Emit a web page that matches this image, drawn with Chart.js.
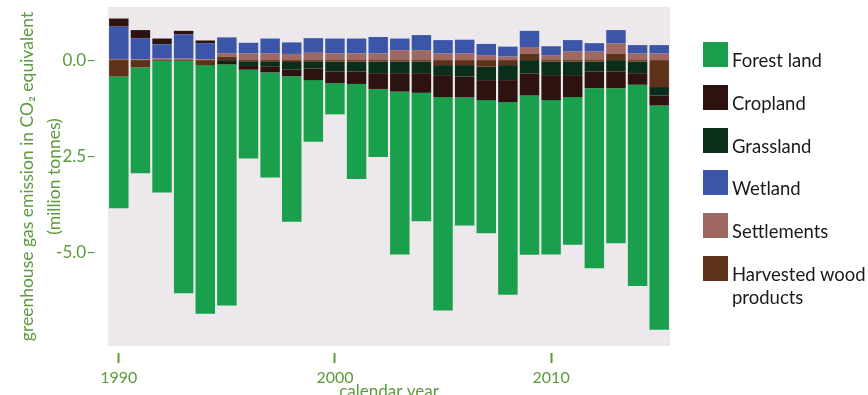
<!DOCTYPE html>
<html>
<head>
<meta charset="utf-8">
<script src="https://cdn.jsdelivr.net/npm/chart.js@4.4.1/dist/chart.umd.min.js"></script>
<style>
  html, body { margin: 0; padding: 0; background: #fff; overflow: hidden; width: 868px; height: 395px; }
  #wrap { position: relative; width: 868px; height: 402px; }
  #legend { position: absolute; left: 703px; top: 42px; font-family: Lato, "Open Sans", sans-serif; font-size: 18.5px; color: #1a1a1a; white-space: nowrap; }
  .lg-item { position: absolute; left: 0; }
  .lg-box { position: absolute; left: 0; top: 0; width: 25px; height: 25px; }
  .lg-text { position: absolute; left: 29px; top: 7px; line-height: 23px; }
</style>
</head>
<body>
<div id="wrap">
  <canvas id="chart" width="868" height="402"></canvas>
  <div id="legend"></div>
</div>
<script>
// ── Dados ─────────────────────────────────────────────────────
const YEARS = [1990, 1991, 1992, 1993, 1994, 1995, 1996, 1997, 1998, 1999,
  2000, 2001, 2002, 2003, 2004, 2005, 2006, 2007, 2008, 2009,
  2010, 2011, 2012, 2013, 2014, 2015];

const FOREST = [-3.42, -2.75, -3.42, -6.04, -6.46, -6.27, -2.31, -2.73, -3.78, -1.60,
  -0.81, -2.47, -1.77, -4.23, -3.34, -5.55, -3.33, -3.46, -5.01, -4.14,
  -4.01, -3.84, -4.68, -4.03, -5.23, -5.83];
const CROPLAND = [0.21, 0.21, 0.15, 0.09, 0.07, -0.06, -0.12, -0.16, -0.17, -0.30,
  -0.30, -0.32, -0.41, -0.48, -0.51, -0.57, -0.54, -0.52, -0.57, -0.57,
  -0.65, -0.57, -0.43, -0.43, -0.30, -0.26];
const GRASSLAND = [0, 0, 0, 0, 0, -0.05, -0.10, -0.13, -0.20, -0.19,
  -0.26, -0.26, -0.30, -0.30, -0.30, -0.26, -0.30, -0.35, -0.39, -0.35,
  -0.35, -0.35, -0.26, -0.30, -0.30, -0.22];
const WETLAND = [0.84, 0.55, 0.37, 0.63, 0.42, 0.41, 0.28, 0.39, 0.30, 0.38,
  0.39, 0.39, 0.43, 0.30, 0.39, 0.35, 0.36, 0.29, 0.26, 0.42,
  0.23, 0.30, 0.22, 0.35, 0.22, 0.22];
const SETTLEMENTS = [0.03, 0.02, 0.04, 0.04, 0.02, 0.09, 0.17, 0.17, 0.16, 0.19,
  0.17, 0.17, 0.17, 0.26, 0.26, 0.17, 0.17, 0.13, 0.09, 0.17,
  0.13, 0.22, 0.22, 0.26, 0.17, 0.17];
const HWP = [-0.43, -0.19, -0.02, -0.02, -0.13, 0.09, -0.03, -0.03, -0.05, -0.03,
  -0.04, -0.04, -0.04, -0.04, -0.04, -0.13, -0.13, -0.17, -0.13, 0.17,
  -0.04, -0.04, -0.04, 0.17, -0.04, -0.70];

const Y_TICKS = [0, -2.5, -5.0];
const Y_MIN = -7.43;
const Y_MAX = 1.38;

// ── Cores ─────────────────────────────────────────────────────
const AXIS_GREEN = "#5b9b3d";
const PLOT_BG = "#ece8eb";

// ordem do empilhamento (a partir do zero)
const SERIES = [
  { label: "Harvested wood products", data: HWP, color: "#5e3218" },
  { label: "Settlements", data: SETTLEMENTS, color: "#a06862" },
  { label: "Wetland", data: WETLAND, color: "#3b55a8" },
  { label: "Grassland", data: GRASSLAND, color: "#0b2e1a" },
  { label: "Cropland", data: CROPLAND, color: "#2e1210" },
  { label: "Forest land", data: FOREST, color: "#1aa04c" },
];

// ordem da legenda
const LEGEND_ORDER = ["Forest land", "Cropland", "Grassland", "Wetland", "Settlements", "Harvested wood products"];
const LEGEND_TEXT = {
  "Harvested wood products": "Harvested wood<br>products",
};

// ── Fundo da área do gráfico ──────────────────────────────────
const plotBackground = {
  id: "plotBackground",
  beforeDraw(chart) {
    const { ctx, chartArea: a } = chart;
    ctx.save();
    ctx.fillStyle = PLOT_BG;
    ctx.fillRect(a.left, a.top, a.right - a.left, a.bottom - a.top);
    ctx.restore();
  },
};

const FONT = "Lato, 'Open Sans', sans-serif";

new Chart(document.getElementById("chart"), {
  type: "bar",
  data: {
    labels: YEARS,
    datasets: SERIES.map((s) => ({
      label: s.label,
      data: s.data,
      backgroundColor: s.color,
      borderWidth: 0,
      barPercentage: 1.0,
      categoryPercentage: 0.9,
    })),
  },
  options: {
    responsive: false,
    animation: false,
    layout: { padding: { left: 0, right: 198, top: 7, bottom: 0 } },
    plugins: {
      legend: { display: false },
      tooltip: { enabled: false },
    },
    scales: {
      x: {
        stacked: true,
        afterFit: (scale) => { scale.height = 56; },
        border: { display: false },
        grid: {
          offset: false,
          drawOnChartArea: false,
          drawTicks: true,
          tickLength: 17,
          tickWidth: 2,
          tickBorderDash: [0, 7, 10, 100],
          color: (c) => (YEARS[c.index] % 10 === 0 ? AXIS_GREEN : "rgba(0,0,0,0)"),
          tickColor: (c) => (YEARS[c.index] % 10 === 0 ? AXIS_GREEN : "rgba(0,0,0,0)"),
        },
        ticks: {
          autoSkip: false,
          maxRotation: 0,
          padding: 5,
          color: AXIS_GREEN,
          font: { family: FONT, size: 16 },
          callback: (v, i) => (YEARS[i] % 10 === 0 ? String(YEARS[i]) : ""),
        },
        title: {
          display: true,
          text: "calendar year",
          color: AXIS_GREEN,
          font: { family: FONT, size: 17 },
          padding: { top: 0, bottom: 0 },
        },
      },
      y: {
        stacked: true,
        min: Y_MIN,
        max: Y_MAX,
        afterFit: (scale) => {
          scale.width = 108;
          scale.paddingTop = 0;
          scale.paddingBottom = 0;
        },
        afterBuildTicks: (scale) => { scale.ticks = Y_TICKS.map((v) => ({ value: v })); },
        border: { display: false },
        grid: { display: false },
        ticks: {
          padding: 4,
          color: AXIS_GREEN,
          font: { family: FONT, size: 17 },
          callback: (v) => Number(v).toFixed(1) + "–",
        },
        title: {
          display: true,
          text: ["greenhouse gas emission in CO₂ equivalent", "(million tonnes)"],
          color: AXIS_GREEN,
          font: { family: FONT, size: 17.5, lineHeight: 27 / 17.5 },
          padding: { top: 14, bottom: 0 },
        },
      },
    },
  },
  plugins: [plotBackground],
});

// ── Legenda ───────────────────────────────────────────────────
const legendEl = document.getElementById("legend");
LEGEND_ORDER.forEach((nome, i) => {
  const s = SERIES.find((x) => x.label === nome);
  const item = document.createElement("div");
  item.className = "lg-item";
  item.style.top = Math.round(i * 42.8) + "px";
  const box = document.createElement("div");
  box.className = "lg-box";
  box.style.background = s.color;
  const txt = document.createElement("div");
  txt.className = "lg-text";
  txt.innerHTML = LEGEND_TEXT[nome] || nome;
  item.appendChild(box);
  item.appendChild(txt);
  legendEl.appendChild(item);
});
</script>
</body>
</html>
